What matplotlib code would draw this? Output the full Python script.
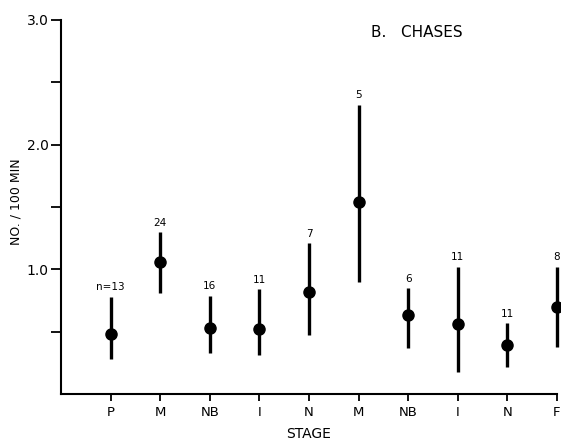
import numpy as np
import matplotlib.pyplot as plt

plt.rcParams['font.family'] = ['DejaVu Sans']

stages = ['P', 'M', 'NB', 'I', 'N', 'M', 'NB', 'I', 'N', 'F']
means = [0.48, 1.06, 0.53, 0.52, 0.82, 1.54, 0.63, 0.56, 0.39, 0.70]
upper = [0.78, 1.30, 0.79, 0.84, 1.21, 2.32, 0.85, 1.02, 0.57, 1.02]
lower = [0.28, 0.81, 0.33, 0.31, 0.47, 0.90, 0.37, 0.18, 0.22, 0.38]
n_labels = ['n=13', '24', '16', '11', '7', '5', '6', '11', '11', '8']

x = np.arange(1, len(stages) + 1)

fig = plt.figure(figsize=(5.61, 4.44), dpi=100)
ax = fig.add_axes([0.1087, 0.1126, 0.884, 0.8424])

ax.vlines(x, lower, upper, color='black', linewidth=2.4, clip_on=False)
ax.plot(x, means, 'o', color='black', markersize=8, clip_on=False)
for xi, top, lab in zip(x, upper, n_labels):
    ax.text(xi, top + 0.075, lab, ha='center', va='center', fontsize=7.5)

ax.set_xlim(0, 10)
ax.set_ylim(0, 3.0)
ax.set_xticks(x)
ax.set_xticklabels(stages, fontsize=9.5)
ax.set_yticks([1.0, 2.0, 3.0])
ax.set_yticklabels(['1.0', '2.0', '3.0'], fontsize=10)
ax.set_yticks([0.5, 1.5, 2.5], minor=True)
ax.tick_params(axis='y', which='both', length=7, width=1.3, direction='out', pad=2)
ax.tick_params(axis='x', length=5, width=1.3, direction='out')

for s in ['top', 'right']:
    ax.spines[s].set_visible(False)
for s in ['left', 'bottom']:
    ax.spines[s].set_linewidth(1.5)

ax.set_xlabel('STAGE', fontsize=10, labelpad=6)
ax.set_ylabel('NO. / 100 MIN', fontsize=9)
ax.yaxis.set_label_coords(-0.078, 0.515)
ax.text(0.625, 0.966, 'B.   CHASES', transform=ax.transAxes, fontsize=11,
        ha='left', va='center')

fig.savefig('out.png', dpi=100)
